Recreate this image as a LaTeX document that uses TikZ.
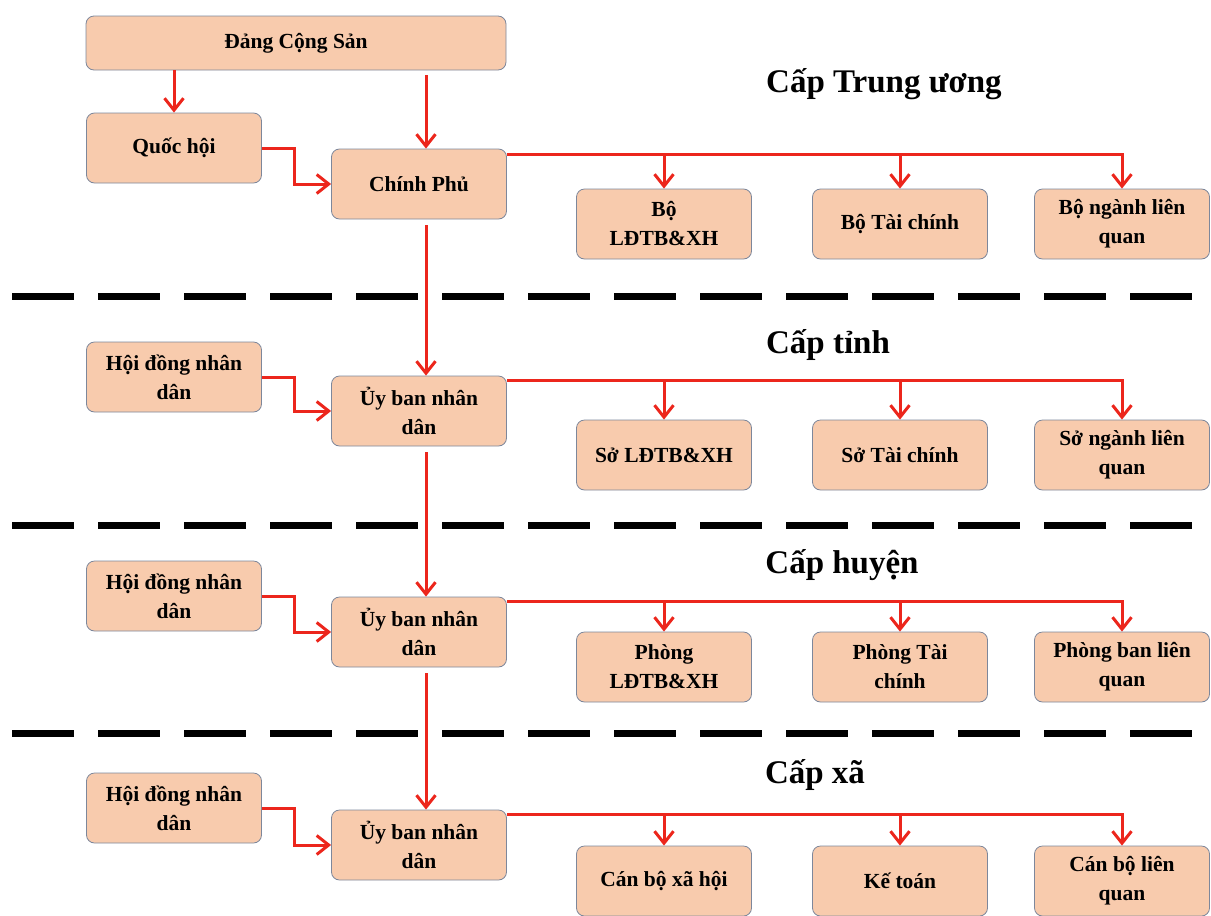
\documentclass[tikz,border=0pt]{standalone}
\usepackage{fontspec}
\setmainfont{Liberation Serif}
\usetikzlibrary{arrows.meta}

\definecolor{boxfill}{RGB}{248,203,173}
\definecolor{boxline}{RGB}{125,135,155}
\definecolor{linkred}{RGB}{236,38,28}

\begin{document}
\begin{tikzpicture}[x = 1pt, y = -1pt,
        unit/.style = {draw = boxline, fill = boxfill, line width = 0.8pt, rounded corners = 8pt,
            minimum width = 175pt, minimum height = 70pt, align = center,
            font = \fontsize{21.5}{29}\selectfont\bfseries},
        level/.style = {font = \fontsize{33}{36}\selectfont\bfseries},
        link/.style = {draw = linkred, line width = 3pt,
            -{Straight Barb[length = 12pt, width = 19pt, line width = 3pt]}},
        divider/.style = {line width = 7pt, dash pattern = on 62pt off 24pt}]
        \useasboundingbox (0, 0) rectangle (1211, 916);

        \node[unit, minimum width = 420pt, minimum height = 54pt] (dang) at (296, 43) {Đảng Cộng Sản};
        \node[unit] (qh) at (174, 148) {Quốc hội};
        \node[unit] (cp) at (419, 184) {Chính Phủ};
        \node[unit] (bo1) at (664, 224) {Bộ\\LĐTB\&XH};
        \node[unit] (bo2) at (900, 224) {Bộ Tài chính};
        \node[unit] (bo3) at (1122, 224) {Bộ ngành liên\\quan};
        \node[level] (captw) at (884, 84) {Cấp Trung ương};

        \node[unit] (hd1) at (174, 377) {Hội đồng nhân\\dân};
        \node[unit] (ub1) at (419, 411) {Ủy ban nhân\\dân};
        \node[unit] (so1) at (664, 455) {Sở LĐTB\&XH};
        \node[unit] (so2) at (900, 455) {Sở Tài chính};
        \node[unit] (so3) at (1122, 455) {Sở ngành liên\\quan};
        \node[level] (captinh) at (828, 345) {Cấp tỉnh};

        \node[unit] (hd2) at (174, 596) {Hội đồng nhân\\dân};
        \node[unit] (ub2) at (419, 632) {Ủy ban nhân\\dân};
        \node[unit] (ph1) at (664, 667) {Phòng\\LĐTB\&XH};
        \node[unit] (ph2) at (900, 667) {Phòng Tài\\chính};
        \node[unit] (ph3) at (1122, 667) {Phòng ban liên\\quan};
        \node[level] (caphuyen) at (842, 565) {Cấp huyện};

        \node[unit] (hd3) at (174, 808) {Hội đồng nhân\\dân};
        \node[unit] (ub3) at (419, 845) {Ủy ban nhân\\dân};
        \node[unit] (xa1) at (664, 881) {Cán bộ xã hội};
        \node[unit] (xa2) at (900, 881) {Kế toán};
        \node[unit] (xa3) at (1122, 881) {Cán bộ liên\\quan};
        \node[level] (capxa) at (815, 775) {Cấp xã};

        \coordinate (d1a) at (12, 296);  \coordinate (d1b) at (1192, 296);
        \coordinate (d2a) at (12, 525);  \coordinate (d2b) at (1192, 525);
        \coordinate (d3a) at (12, 733);  \coordinate (d3b) at (1192, 733);
        \draw[divider] (d1a) -- (d1b);
        \draw[divider] (d2a) -- (d2b);
        \draw[divider] (d3a) -- (d3b);

        \begin{scope}[link]
            \draw (dang.south -| qh.north) -- (qh.north);
            \draw[shorten <= 5pt] ([xshift = 7pt]cp.north |- dang.south) -- ([xshift = 7pt]cp.north);
            \draw (qh.east) -- ++(33, 0) |- (cp.west);
            \draw[shorten <= 6pt] ([xshift = 7pt]cp.south) -- ([xshift = 7pt]ub1.north);
            \draw[shorten <= 6pt] ([xshift = 7pt]ub1.south) -- ([xshift = 7pt]ub2.north);
            \draw[shorten <= 6pt] ([xshift = 7pt]ub2.south) -- ([xshift = 7pt]ub3.north);

            \coordinate (bus0) at ([yshift = -6pt]cp.north east);
            \draw (bus0) -| (bo3.north);
            \draw (bus0 -| bo1.north) -- (bo1.north);
            \draw (bus0 -| bo2.north) -- (bo2.north);

            \draw (hd1.east) -- ++(33, 0) |- (ub1.west);
            \coordinate (bus1) at ([yshift = -5pt]ub1.north east);
            \draw (bus1) -| (so3.north);
            \draw (bus1 -| so1.north) -- (so1.north);
            \draw (bus1 -| so2.north) -- (so2.north);

            \draw (hd2.east) -- ++(33, 0) |- (ub2.west);
            \coordinate (bus2) at ([yshift = -5pt]ub2.north east);
            \draw (bus2) -| (ph3.north);
            \draw (bus2 -| ph1.north) -- (ph1.north);
            \draw (bus2 -| ph2.north) -- (ph2.north);

            \draw (hd3.east) -- ++(33, 0) |- (ub3.west);
            \coordinate (bus3) at ([yshift = -5pt]ub3.north east);
            \draw (bus3) -| (xa3.north);
            \draw (bus3 -| xa1.north) -- (xa1.north);
            \draw (bus3 -| xa2.north) -- (xa2.north);
        \end{scope}
    \end{tikzpicture}
\end{document}
